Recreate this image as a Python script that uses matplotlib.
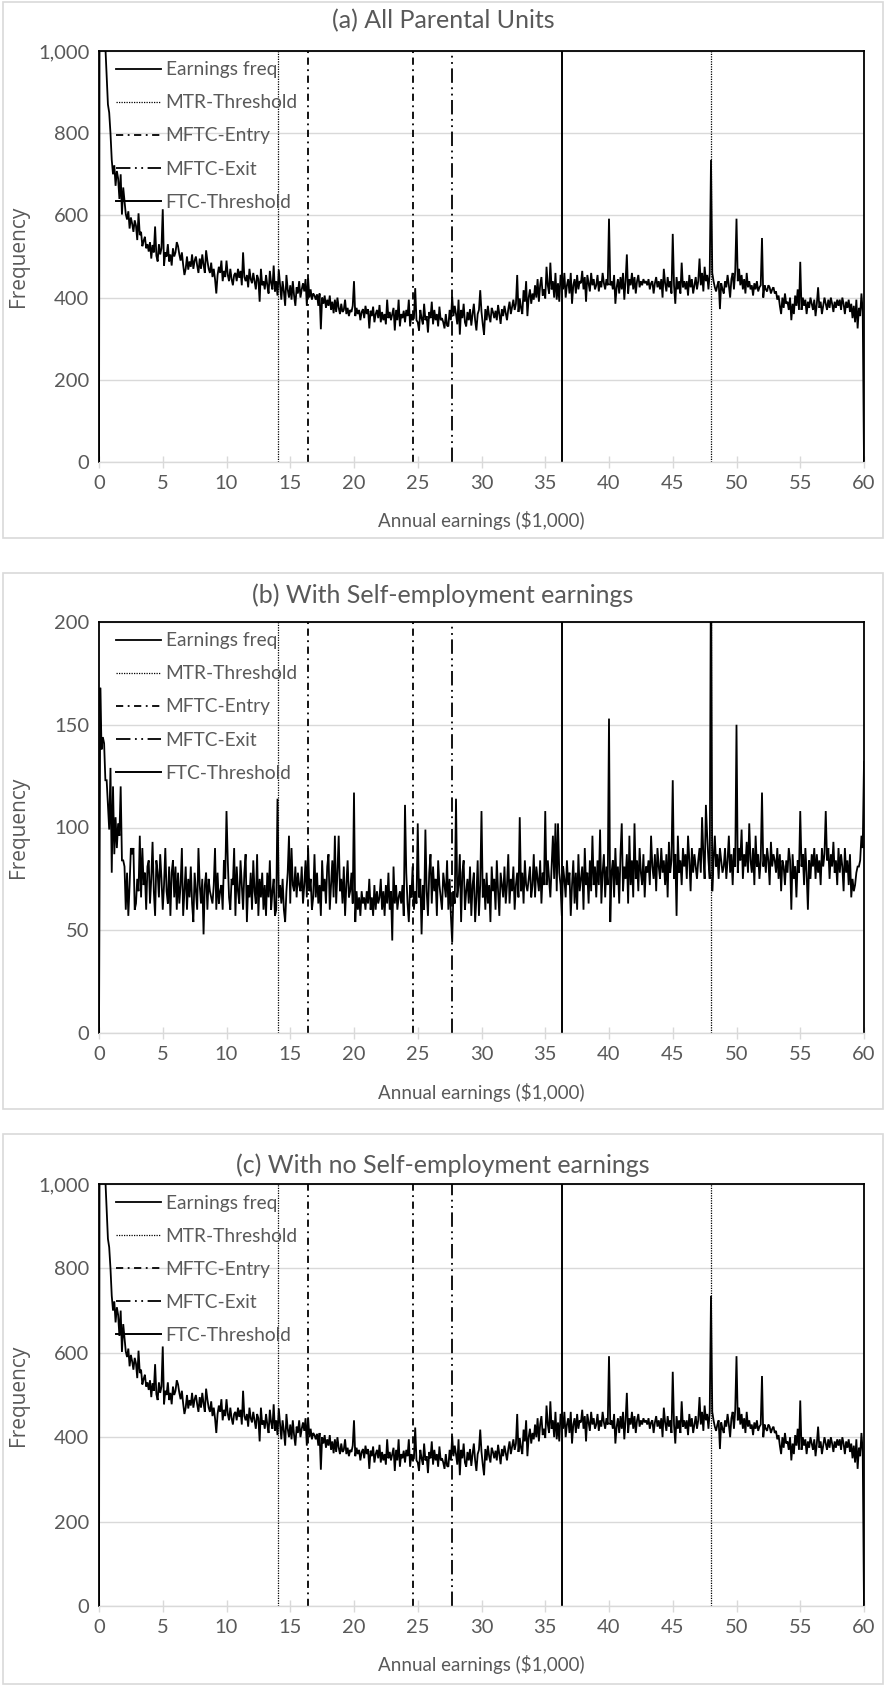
import numpy as np
import matplotlib
matplotlib.use("Agg")
import matplotlib.pyplot as plt
from matplotlib.patches import Rectangle
from matplotlib.ticker import FuncFormatter

plt.rcParams["font.family"] = ["Lato", "DejaVu Sans"]

# Earnings bins: $100 wide, 0 .. 60,000 (in $1,000)
earnings_k = np.round(np.arange(0, 601) * 0.1, 1)

# (a) All parental units, frequency per $100 bin (one row per $1,000)
freq_all = [
    0, 2500, 1800, 1400, 1150, 1010, 940, 870, 850, 800,
    735, 700, 722, 672, 708, 690, 640, 700, 602, 668,
    636, 603, 590, 610, 568, 595, 580, 560, 588, 575,
    540, 605, 552, 560, 525, 538, 548, 520, 530, 512,
    535, 495, 528, 510, 573, 502, 488, 530, 505, 520,
    615, 478, 510, 500, 530, 488, 505, 478, 520, 500,
    510, 535, 525, 505, 490, 510, 480, 455, 470, 500,
    468, 488, 475, 505, 470, 490, 500, 478, 460, 495,
    470, 505, 480, 460, 515, 490, 470, 460, 485, 450,
    470, 445, 410, 455, 475, 460, 490, 440, 465, 450,
    490, 455, 440, 470, 445, 430, 455, 460, 440, 470,
    448, 465, 430, 510, 450, 440, 455, 425, 470, 445,
    435, 460, 440, 420, 455, 445, 390, 470, 430, 440,
    420, 455, 430, 410, 465, 435, 420, 478, 415, 440,
    405, 468, 430, 395, 440, 415, 380, 455, 420, 400,
    430, 395, 440, 405, 380, 425, 410, 440, 400, 420,
    435, 415, 445, 380, 447, 400, 420, 395, 410, 405,
    395, 408, 380, 410, 323, 400, 385, 405, 375, 395,
    380, 405, 370, 390, 362, 395, 365, 400, 375, 360,
    385, 365, 370, 395, 360, 375, 355, 370, 365, 380,
    440, 355, 375, 360, 370, 345, 365, 372, 350, 380,
    360, 372, 325, 368, 355, 378, 340, 360, 370, 350,
    382, 340, 365, 345, 360, 335, 395, 350, 365, 345,
    360, 375, 320, 370, 345, 395, 330, 360, 350, 368,
    340, 370, 355, 395, 330, 360, 345, 350, 423, 345,
    340, 320, 370, 350, 335, 385, 345, 355, 315, 365,
    350, 390, 335, 370, 345, 360, 330, 378, 345, 350,
    340, 325, 360, 332, 330, 370, 345, 402, 355, 380,
    360, 335, 395, 310, 370, 350, 385, 340, 330, 365,
    345, 372, 332, 360, 385, 345, 320, 360, 370, 418,
    365, 335, 310, 372, 345, 380, 355, 340, 375, 365,
    350, 368, 345, 382, 360, 336, 372, 355, 380, 362,
    345, 372, 390, 360, 378, 395, 370, 385, 455, 365,
    398, 375, 360, 418, 390, 440, 355, 400, 420, 385,
    410, 395, 430, 400, 445, 390, 430, 450, 405, 420,
    398, 475, 430, 410, 485, 420, 440, 400, 460, 395,
    435, 390, 455, 450, 420, 460, 400, 430, 445, 410,
    460, 385, 430, 445, 410, 455, 420, 440, 435, 465,
    420, 450, 390, 455, 435, 415, 460, 430, 445, 420,
    430, 455, 415, 440, 425, 460, 435, 420, 445, 430,
    592, 430, 440, 420, 455, 385, 425, 445, 410, 450,
    420, 460, 395, 440, 505, 410, 445, 430, 460, 420,
    450, 410, 440, 455, 425, 440, 430, 445, 435, 440,
    430, 445, 420, 435, 440, 410, 435, 450, 425, 440,
    420, 445, 400, 470, 435, 415, 450, 425, 440, 410,
    555, 430, 385, 450, 420, 440, 410, 485, 425, 440,
    420, 440, 405, 455, 425, 445, 410, 430, 450, 420,
    440, 495, 430, 460, 415, 475, 440, 455, 420, 460,
    735, 460, 440, 425, 415, 430, 440, 372, 435, 420,
    410, 440, 425, 455, 430, 400, 445, 460, 420, 465,
    592, 440, 470, 430, 455, 420, 445, 410, 460, 425,
    440, 420, 430, 405, 435, 420, 440, 415, 425, 430,
    545, 400, 430, 420, 415, 430, 425, 410, 420, 425,
    410, 415, 395, 405, 380, 360, 400, 375, 410, 385,
    390, 370, 400, 345, 385, 360, 405, 380, 420, 370,
    487, 370, 400, 380, 395, 360, 390, 375, 400, 385,
    370, 395, 355, 385, 425, 375, 390, 360, 380, 400,
    385, 370, 395, 375, 400, 385, 365, 390, 375, 395,
    380, 395, 370, 400, 385, 360, 390, 375, 395, 365,
    385, 350, 380, 340, 395, 325, 375, 355, 410, 365,
    0,
]

# (b) Parental units with self-employment earnings
freq_self_emp = [
    0, 168, 138, 144, 141, 123, 123, 111, 99, 129,
    78, 120, 87, 105, 90, 102, 96, 120, 84, 84,
    81, 60, 78, 57, 72, 90, 87, 90, 60, 63,
    75, 69, 96, 66, 90, 72, 78, 60, 81, 84,
    63, 75, 93, 69, 57, 84, 78, 66, 87, 75,
    60, 72, 90, 69, 63, 81, 57, 78, 84, 66,
    81, 60, 78, 63, 72, 90, 57, 69, 81, 60,
    75, 66, 81, 63, 54, 78, 69, 60, 90, 72,
    63, 75, 48, 72, 78, 60, 75, 69, 66, 63,
    72, 90, 60, 78, 63, 69, 72, 60, 84, 75,
    108, 84, 66, 60, 75, 72, 90, 57, 81, 69,
    63, 84, 72, 60, 78, 87, 54, 72, 66, 78,
    60, 84, 69, 63, 87, 57, 75, 66, 78, 60,
    72, 57, 78, 66, 84, 60, 69, 75, 57, 60,
    114, 66, 72, 63, 75, 60, 54, 69, 78, 96,
    63, 90, 72, 69, 81, 66, 78, 72, 69, 81,
    63, 72, 84, 66, 90, 69, 75, 60, 66, 87,
    66, 78, 63, 72, 57, 84, 69, 75, 63, 81,
    87, 60, 72, 84, 66, 96, 63, 78, 96, 69,
    75, 63, 81, 57, 72, 84, 66, 69, 78, 63,
    117, 54, 69, 60, 66, 57, 69, 63, 66, 60,
    69, 63, 75, 60, 66, 57, 72, 60, 69, 63,
    66, 75, 60, 69, 57, 72, 63, 78, 60, 69,
    45, 81, 63, 72, 60, 66, 69, 63, 72, 57,
    111, 78, 63, 54, 72, 66, 81, 60, 69, 63,
    102, 66, 75, 48, 72, 60, 99, 69, 57, 78,
    87, 63, 81, 69, 75, 57, 84, 72, 66, 60,
    78, 72, 66, 84, 60, 75, 57, 44, 69, 63,
    114, 66, 72, 87, 54, 78, 84, 60, 69, 75,
    63, 81, 57, 72, 78, 54, 66, 84, 57, 72,
    108, 66, 75, 60, 78, 63, 72, 54, 81, 69,
    75, 60, 84, 69, 57, 78, 72, 66, 81, 63,
    72, 87, 63, 75, 69, 81, 60, 72, 78, 66,
    105, 69, 78, 63, 84, 72, 69, 75, 81, 66,
    72, 87, 66, 81, 75, 69, 84, 63, 78, 72,
    108, 72, 84, 75, 66, 81, 96, 75, 102, 69,
    102, 78, 72, 57, 81, 75, 66, 84, 72, 78,
    57, 72, 84, 63, 78, 60, 87, 69, 75, 81,
    60, 90, 72, 78, 63, 84, 69, 96, 72, 81,
    66, 84, 72, 99, 63, 78, 87, 66, 81, 72,
    153, 54, 78, 84, 66, 90, 72, 81, 63, 87,
    102, 69, 81, 75, 87, 63, 96, 72, 84, 66,
    102, 75, 84, 69, 90, 78, 72, 87, 66, 81,
    78, 84, 72, 96, 81, 75, 87, 69, 90, 81,
    75, 90, 78, 84, 72, 87, 66, 93, 78, 84,
    123, 75, 87, 57, 96, 78, 84, 72, 90, 81,
    87, 75, 96, 84, 69, 90, 78, 87, 81, 75,
    84, 90, 78, 105, 87, 75, 111, 96, 84, 75,
    240, 69, 84, 96, 81, 87, 75, 90, 84, 78,
    81, 90, 75, 84, 96, 78, 87, 72, 90, 81,
    150, 78, 90, 84, 99, 75, 87, 81, 93, 78,
    102, 84, 78, 90, 72, 96, 81, 87, 75, 84,
    117, 81, 87, 78, 90, 84, 72, 93, 81, 87,
    84, 78, 90, 75, 87, 69, 84, 81, 72, 84,
    78, 90, 84, 60, 87, 75, 81, 66, 84, 78,
    108, 81, 87, 72, 90, 78, 60, 84, 75, 87,
    81, 90, 75, 87, 78, 84, 72, 90, 81, 87,
    108, 84, 90, 75, 87, 81, 93, 78, 84, 72,
    90, 78, 87, 81, 69, 90, 78, 84, 72, 87,
    66, 75, 69, 72, 78, 81, 81, 84, 96, 90,
    132,
]

# (c) Parental units with no self-employment earnings
freq_no_self_emp = list(freq_all)

# Policy thresholds ($1,000)
mtr_threshold = [14.0, 48.0]
mftc_entry = [16.4, 24.6]
mftc_exit = [27.7]
ftc_threshold = [36.35]

x_ticks = list(range(0, 61, 5))

panels = [
    ("(a) All Parental Units", freq_all, 1000, 200),
    ("(b) With Self-employment earnings", freq_self_emp, 200, 50),
    ("(c) With no Self-employment earnings", freq_no_self_emp, 1000, 200),
]

W, H = 886, 1686
fig = plt.figure(figsize=(W / 100, H / 100), dpi=100)
fig.patch.set_facecolor("white")

GREY_TXT = "#595959"
GRID = "#d9d9d9"

# pixel layout: (plot top, plot bottom, title y, xlabel y, box top, box bottom)
layout = [
    (51, 462, 21, 521, 2, 538),
    (622, 1033, 595, 1092, 573, 1109),
    (1184, 1606, 1165, 1665, 1134, 1684),
]
x_left, x_right = 99, 864

def fx(px):
    return px / W

def fy(py):
    return 1 - py / H

styles = {
    "mtr": dict(color="black", lw=0.9, ls=(0, (1, 1))),
    "entry": dict(color="black", lw=1.3, ls=(0, (4, 2.5, 1, 2.5))),
    "exit": dict(color="black", lw=1.3, ls=(0, (8, 2.5, 1, 2.5, 1, 2.5))),
    "ftc": dict(color="black", lw=1.4, ls="-"),
}

for (title, freq, ymax, ystep), (ptop, pbot, ty, xly, btop, bbot) in zip(panels, layout):
    # chart-area border
    fig.add_artist(Rectangle((fx(3), fy(bbot)), fx(W - 6), fy(btop) - fy(bbot),
                             transform=fig.transFigure, fill=False,
                             edgecolor=GRID, lw=1.2))
    ax = fig.add_axes([fx(x_left), fy(pbot), fx(x_right - x_left), fy(ptop) - fy(pbot)])
    ax.set_xlim(0, 60)
    ax.set_ylim(0, ymax)

    line_e, = ax.plot(earnings_k, freq, color="black", lw=1.3, label="Earnings freq",
                      zorder=3, solid_joinstyle="miter")
    handles = [line_e]
    for key, xs, lab in [("mtr", mtr_threshold, "MTR-Threshold"),
                         ("entry", mftc_entry, "MFTC-Entry"),
                         ("exit", mftc_exit, "MFTC-Exit"),
                         ("ftc", ftc_threshold, "FTC-Threshold")]:
        for i, xv in enumerate(xs):
            h = ax.axvline(xv, zorder=2, label=lab if i == 0 else None, **styles[key])
            if i == 0:
                handles.append(h)

    ax.set_yticks(np.arange(0, ymax + 1, ystep))
    ax.set_xticks(x_ticks)
    ax.yaxis.set_major_formatter(FuncFormatter(lambda v, p: f"{int(v):,}"))
    ax.grid(axis="y", color=GRID, lw=1.0, zorder=0)
    ax.set_axisbelow(True)
    for side in ("top", "left", "right"):
        ax.spines[side].set_color("black")
        ax.spines[side].set_linewidth(1.3)
    ax.spines["bottom"].set_color(GRID)
    ax.spines["bottom"].set_linewidth(1.0)
    ax.tick_params(axis="y", length=0, pad=7, labelsize=14.5, labelcolor=GREY_TXT)
    ax.tick_params(axis="x", direction="inout", length=9, width=1.0, color=GRID,
                   pad=5, labelsize=14.5, labelcolor=GREY_TXT)

    leg = ax.legend(handles=handles, loc="upper left", bbox_to_anchor=(0.022, 0.975),
                    frameon=False, borderpad=0, borderaxespad=0, handlelength=2.35,
                    handletextpad=0.25, labelspacing=0.84, fontsize=13.8)
    for t in leg.get_texts():
        t.set_color(GREY_TXT)

    fig.text(0.5, fy(ty), title, ha="center", va="center", fontsize=18, color=GREY_TXT)
    fig.text(fx((x_left + x_right) / 2), fy(xly), "Annual earnings (\\$1,000)",
             ha="center", va="center", fontsize=13.5, color=GREY_TXT)
    fig.text(fx(19), fy((ptop + pbot) / 2), "Frequency", rotation=90,
             ha="center", va="center", fontsize=15, color=GREY_TXT,
             family=["Open Sans", "DejaVu Sans"])

fig.savefig("out.png", dpi=100, facecolor="white")
